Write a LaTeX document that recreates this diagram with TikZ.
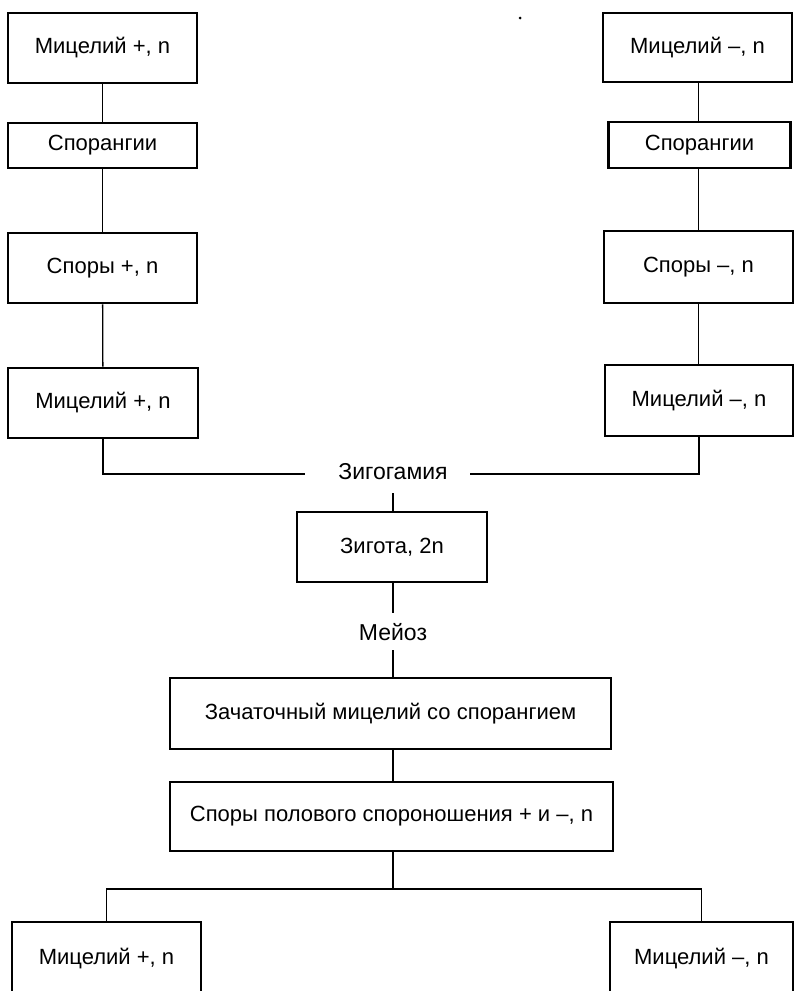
\documentclass[tikz,border=0pt]{standalone}
\usepackage{fontspec}
\setmainfont{Liberation Sans}
\begin{document}
\begin{tikzpicture}[x=1pt,y=-1pt,
  box/.style={draw, line width=2.9pt, inner sep=0pt, font=\fontsize{22}{26}\selectfont},
  lbl/.style={inner sep=0pt, font=\fontsize{23}{27}\selectfont},
  conn/.style={line width=1.3pt}]
\useasboundingbox (0,0) rectangle (796,991);
% left column
\node[box, minimum width=189pt, minimum height=70pt] (L1) at (102.5,48) {Мицелий +, n};
\node[box, minimum width=189pt, minimum height=45pt] (L2) at (102.5,145.5) {Спорангии};
\node[box, minimum width=189pt, minimum height=70pt] (L3) at (102.5,268) {Споры +, n};
\node[box, minimum width=190pt, minimum height=70pt] (L4) at (103,403) {Мицелий +, n};
% right column
\node[box, minimum width=189pt, minimum height=69pt] (R1) at (697.5,47.5) {Мицелий –, n};
\node[box, minimum width=182pt, minimum height=46pt] (R2) at (699.5,145) {Спорангии};
\node[box, minimum width=189pt, minimum height=72pt] (R3) at (698.5,267) {Споры –, n};
\node[box, minimum width=188pt, minimum height=71pt] (R4) at (699,400.5) {Мицелий –, n};
% centre
\node[lbl] (Z) at (393,472) {Зигогамия};
\node[box, minimum width=190pt, minimum height=70pt] (Zg) at (392,547) {Зигота, 2n};
\node[lbl] (M) at (393,632) {Мейоз};
\node[box, minimum width=441pt, minimum height=71pt] (Za) at (390.5,713.5) {Зачаточный мицелий со спорангием};
\node[box, minimum width=443pt, minimum height=69pt] (Sp) at (391.5,816.5) {Споры полового спороношения + и –, n};
% bottom
\node[box, minimum width=189pt, minimum height=74pt] (BL) at (106.5,959) {Мицелий +, n};
\node[box, minimum width=183pt, minimum height=74pt] (BR) at (701.5,959) {Мицелий –, n};
% coordinates
\coordinate (zl) at (305,474);
\coordinate (zr) at (470,474);
\coordinate (z1) at (393,493);
\coordinate (m1) at (393,613);
\coordinate (m2) at (393,650);
\coordinate (b) at (393,889);
% connectors
\draw[conn] (L1) -- (L2);
\draw[conn] (L2) -- (L3);
\draw[conn] (L3) -- (L4);
\draw[conn] (R1.south -| R3) -- (R2.north -| R3);
\draw[conn] (R2.south -| R3) -- (R3.north);
\draw[conn] (R3) -- (R4.north -| R3);
\draw[conn] (L4.south) |- (zl);
\draw[conn] (R4.south) |- (zr);
\draw[conn] (z1) -- (Zg.north -| z1);
\draw[conn] (Zg.south -| m1) -- (m1);
\draw[conn] (m2) -- (Za.north -| m2);
\draw[conn] (Za.south -| M) -- (Sp.north -| M);
\draw[conn] (Sp.south -| b) -- (b);
\draw[conn] (BL.north) |- (b) -| (BR.north);
% speck
\fill (520,18) circle (1.5pt);
\end{tikzpicture}
\end{document}
